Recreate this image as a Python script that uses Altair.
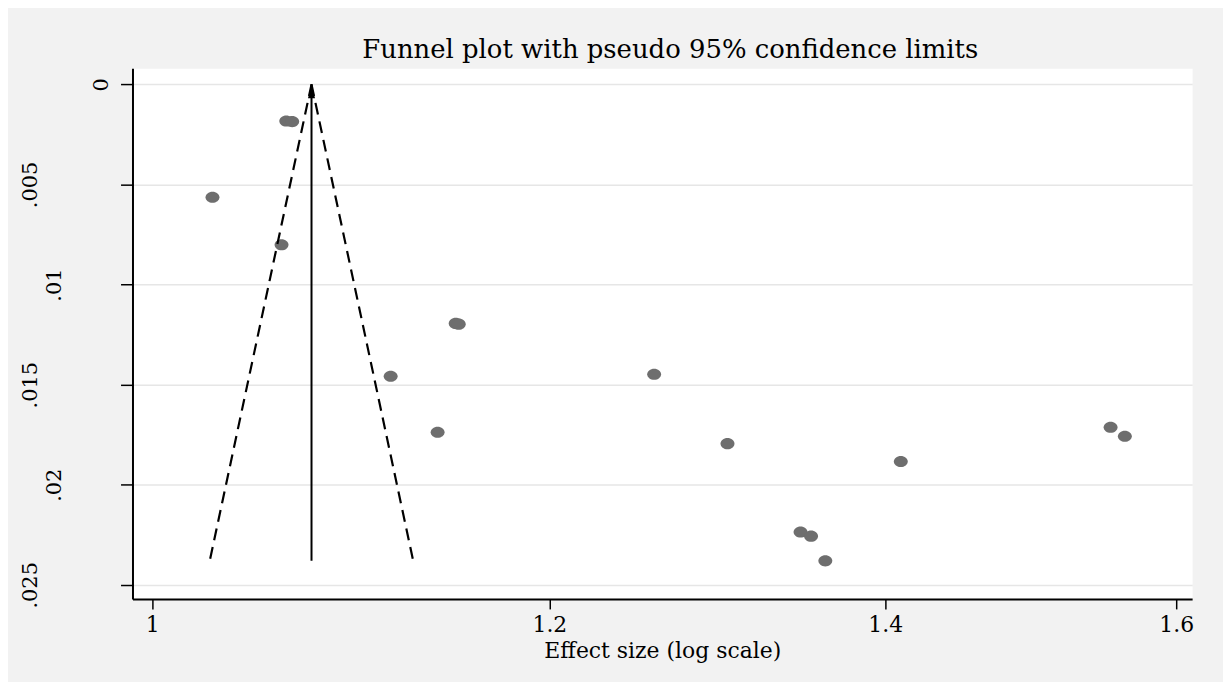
import altair as alt
import pandas as pd

# ---- data ----
effect = [1.0281, 1.0635, 1.0664, 1.0612, 1.1157, 1.1495, 1.1511, 1.2591,
          1.1400, 1.3022, 1.4100, 1.3466, 1.3531, 1.3620, 1.5525, 1.5627]
se = [0.00564, 0.00183, 0.00186, 0.00801, 0.01458, 0.01194, 0.01198, 0.01448,
      0.01738, 0.01795, 0.01884, 0.02236, 0.02257, 0.02380, 0.01713, 0.01758]

pooled = 1.0759          # pooled effect (vertical line)
se_max = 0.0238          # bottom of funnel
limit_low = 1.0268       # lower pseudo 95% limit at se_max
limit_high = 1.1273      # upper pseudo 95% limit at se_max

y_ticks = [0, 0.005, 0.01, 0.015, 0.02, 0.025]
x_ticks = [1, 1.2, 1.4, 1.6]
title_text = "Funnel plot with pseudo 95% confidence limits"
x_title = "Effect size (log scale)"

pts = pd.DataFrame({"effect": effect, "se": se})
lines = pd.DataFrame({
    "effect": [pooled, pooled, pooled],
    "se": [0.0, 0.0, 0.0],
    "effect2": [limit_low, limit_high, pooled],
    "se2": [se_max, se_max, se_max],
    "kind": ["lower", "upper", "pooled"],
})
arrow = pd.DataFrame({"effect": [pooled], "se": [0.0]})

FONT = "DejaVu Serif"
xscale = alt.Scale(type="log", domain=[0.99104, 1.6117], nice=False)
yscale = alt.Scale(domain=[-0.000811, 0.025706], reverse=True, nice=False, zero=False)

x_axis = alt.Axis(
    values=x_ticks, format="~g", grid=False, tickSize=10, tickColor="black",
    tickWidth=1.5, domainColor="black", domainWidth=2, labelFont=FONT,
    labelFontSize=22, labelColor="black", labelPadding=23,
    labelBaseline="alphabetic", labelFlush=False, labelOverlap=False,
    title=x_title, titleFont=FONT, titleFontSize=22, titleFontWeight="normal",
    titleColor="black", titleX=532, titleY=59, titleAlign="center",
    titleBaseline="alphabetic",
)
y_axis = alt.Axis(
    values=y_ticks,
    labelExpr="datum.value == 0 ? '0' : substring(format(datum.value, '.3~f'), 1)",
    labelAngle=270, labelAlign="center", labelBaseline="alphabetic",
    labelPadding={"condition": [
        {"test": "datum.value == 0", "value": 13},
        {"test": "datum.value == 0.01 || datum.value == 0.02", "value": 60},
    ], "value": 84},
    labelFont=FONT, labelFontSize=21, labelColor="black",
    labelFlush=False, labelOverlap=False,
    tickSize=12, tickColor="black", tickWidth=1.5,
    domainColor="black", domainWidth=2,
    grid=True, gridColor="#e6e6e6", gridWidth=1.5,
    title="",
)

X = alt.X("effect:Q", scale=xscale, axis=x_axis, title=x_title)
Y = alt.Y("se:Q", scale=yscale, axis=y_axis, title="")

dashed = alt.Chart(lines).transform_filter("datum.kind != 'pooled'").mark_rule(
    color="black", strokeWidth=2.2, strokeDash=[12, 7]
).encode(x=X, y=Y, x2="effect2:Q", y2="se2:Q")
solid = alt.Chart(lines).transform_filter("datum.kind == 'pooled'").mark_rule(
    color="black", strokeWidth=2
).encode(x=X, y=Y, x2="effect2:Q", y2="se2:Q")
head = alt.Chart(arrow).mark_point(
    shape="M0,0 L-0.5,2 L0.5,2 Z", filled=True, size=196, color="black",
    opacity=1, strokeWidth=0,
).encode(x=X, y=Y)
points = alt.Chart(pts).mark_point(
    shape="M-1,0 A1,0.8 0 1,0 1,0 A1,0.8 0 1,0 -1,0 Z", filled=True, size=196,
    color="#6e6e6e", opacity=1, strokeWidth=0,
).encode(x=X, y=Y)

chart = alt.layer(points, dashed, solid, head).properties(
    width=1064, height=533,
    padding={"left": 125, "top": 59, "right": 31, "bottom": 82},
    autosize=alt.AutoSizeParams(type="none"),
    background="#f2f2f2",
    title=alt.TitleParams(
        text=title_text, font=FONT, fontSize=26, fontWeight="normal",
        color="black", anchor="middle", baseline="alphabetic", offset=8,
        dx=8, dy=24,
    ),
).configure_view(fill="white", stroke="transparent")

chart.save("out.html", embed_options={"renderer": "svg", "actions": False})
